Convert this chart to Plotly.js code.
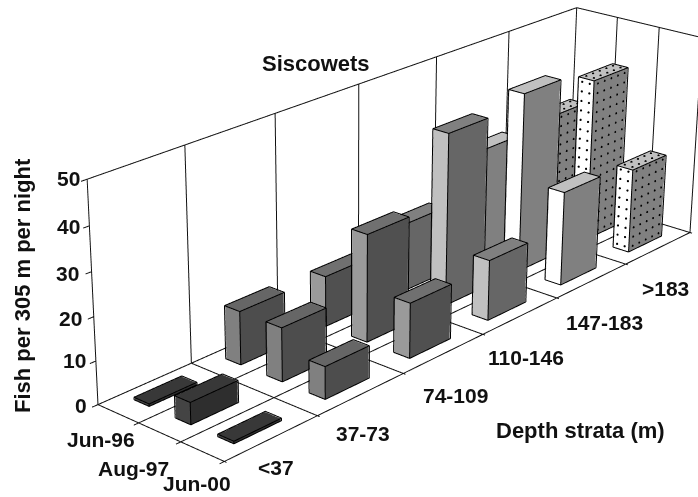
<!DOCTYPE html><html><head><script src="https://cdn.plot.ly/plotly-3.0.1.min.js"></script></head><body style="margin:0;background:#fff;overflow:hidden"><div id="w" style="position:absolute;left:0;top:0;width:698px;height:497px;overflow:hidden"><div id="c" style="position:absolute"></div></div><script>
const depthLabels=['<37','37-73','74-109','110-146','147-183','>183'];
const dateLabels=['Jun-96','Aug-97','Jun-00'];
const jun96=[0.5,12.5,12,16.5,27,28.5];
const aug97=[5,12.5,25.5,41.5,44,40.5];
const jun00=[0.5,7.5,13,14.5,23,21];
const zTicks=[0,10,20,30,40,50];
const sideColors=['#444444','#808080','#9a9a9a','#c0c0c0','#ffffff','#ffffff'];
const faceColors=['#2e2e2e','#4d4d4d','#505050','#666666','#808080','#808080'];
const topColors=['#383838','#666666','#707070','#808080','#c0c0c0','#c0c0c0'];
const W=698,H=497,BH=1862,BW=2615;
const offX=(BW-W)/2,offY=(BH-H)/2;
const cd=document.getElementById('c');cd.style.width=BW+'px';cd.style.height=BH+'px';cd.style.left=-offX+'px';cd.style.top=-offY+'px';
const rows=[jun96,aug97,jun00];
const lx=[],ly=[],lz=[],ex=[],ey=[],ez=[],dx=[],dy=[],dz=[];
const yOf=j=>3-j;
function seg(a,b,X=lx,Y=ly,Z=lz){X.push(a[0],b[0],null);Y.push(a[1],b[1],null);Z.push(a[2],b[2],null)}
for(let i=0;i<=6;i++){seg([i,0,0],[i,3,0]);seg([i,3,0],[i,3,50]);seg([i,0,0],[i,-0.05,0])}
for(let j=0;j<=3;j++){seg([0,j,0],[6,j,0]);seg([6,j,0],[6,j,50]);seg([0,j,0],[-0.05,j,0])}
seg([0,3,50],[6,3,50]);seg([6,0,50],[6,3,50]);
zTicks.forEach(z=>seg([0,3,z],[-0.06,3,z]));
const mx=[],my=[],mz=[],mi=[],mj=[],mk=[],fc=[];
const hx=.25,hy=.18,e=.006;
rows.forEach((vals,j)=>vals.forEach((v,i)=>{
 const x0=i+.5-hx,x1=i+.5+hx,y0=yOf(j)-.5-hy,y1=yOf(j)-.5+hy;
 const b=mx.length;
 [[x0,y0,0],[x1,y0,0],[x1,y1,0],[x0,y1,0],[x0,y0,v],[x1,y0,v],[x1,y1,v],[x0,y1,v]].forEach(q=>{mx.push(q[0]);my.push(q[1]);mz.push(q[2])});
 const add=(q,c)=>{mi.push(b+q[0],b+q[0]);mj.push(b+q[1],b+q[2]);mk.push(b+q[2],b+q[3]);fc.push(c,c)};
 add([0,1,5,4],faceColors[i]);add([3,2,6,7],faceColors[i]);add([0,3,7,4],sideColors[i]);add([1,2,6,5],sideColors[i]);add([4,5,6,7],topColors[i]);
 const X0=x0-e,X1=x1+e,Y0=y0-e,Y1=y1+e,Z=v+.08;
 seg([X0,Y0,0],[X1,Y0,0],ex,ey,ez);seg([X0,Y0,0],[X0,Y1,0],ex,ey,ez);seg([X1,Y0,0],[X1,Y0,Z],ex,ey,ez);seg([X0,Y0,0],[X0,Y0,Z],ex,ey,ez);seg([X0,Y1,0],[X0,Y1,Z],ex,ey,ez);
 seg([X0,Y0,Z],[X1,Y0,Z],ex,ey,ez);seg([X1,Y0,Z],[X1,Y1,Z],ex,ey,ez);seg([X1,Y1,Z],[X0,Y1,Z],ex,ey,ez);seg([X0,Y1,Z],[X0,Y0,Z],ex,ey,ez);
 if(i===5){
  for(let z=1.2;z<v;z+=2.4){for(let a=0;a<5;a++){dx.push(x0+.05+a*.1);dy.push(Y0-.002);dz.push(z)}
   for(let a=0;a<2;a++){dx.push(X0-.002);dy.push(y0+.09+a*.18);dz.push(z)}}
  for(let a=0;a<5;a++)for(let c=0;c<2;c++){dx.push(x0+.05+a*.1);dy.push(y0+.09+c*.18);dz.push(v+.15)}
 }
}));
const pxx=x=>(x+offX)/BW,pxy=y=>1-(y+offY)/BH;
const labelFont={family:'Liberation Sans',size:21,color:'#111',weight:'bold'},boldFont={family:'Liberation Sans',size:22,color:'#111',weight:'bold'};
function ann(text,x,y,f,rot){return {text,x:pxx(x),y:pxy(y),xref:'paper',yref:'paper',xanchor:'center',yanchor:'middle',showarrow:false,font:f,textangle:rot||0}}
const zLabelX=[80,74,70,67,68,68],zLabelY=[405,360,318,273,226,178];
const dlX=[275,362,455,525,604,665],dlY=[467,433,395,357,322,288];
const rlX=[100,133,196],rlY=[439,468,483];
const annotations=[ann('Siscowets',315,63,boldFont),ann('Fish per 305 m per night',22,285,boldFont,-90),ann('Depth strata (m)',580,430,boldFont)];
zTicks.forEach((z,k)=>annotations.push(ann(String(z),zLabelX[k],zLabelY[k],labelFont)));
depthLabels.forEach((t,k)=>annotations.push(ann(t.replace('<','&lt;').replace('>','&gt;'),dlX[k],dlY[k],labelFont)));
dateLabels.forEach((t,k)=>annotations.push(ann(t,rlX[k],rlY[k],labelFont)));
const traces=[
{type:'mesh3d',x:mx,y:my,z:mz,i:mi,j:mj,k:mk,facecolor:fc,flatshading:true,lighting:{ambient:1,diffuse:0,specular:0,fresnel:0,roughness:1},hoverinfo:'skip',showscale:false},
{type:'scatter3d',mode:'lines',x:lx,y:ly,z:lz,line:{color:'#111',width:2},hoverinfo:'skip'},
{type:'scatter3d',mode:'lines',x:ex,y:ey,z:ez,line:{color:'#000',width:2},hoverinfo:'skip'},
{type:'scatter3d',mode:'markers',x:dx,y:dy,z:dz,marker:{color:'#000',size:1.3},hoverinfo:'skip'}];
Plotly.newPlot('c',traces,{width:BW,height:BH,margin:{l:0,r:0,t:0,b:0},showlegend:false,paper_bgcolor:'#fff',annotations,
scene:{domain:{x:[0,1],y:[0,1]},xaxis:{range:[-0.3,6.3],visible:false},yaxis:{range:[-0.15,3.15],visible:false},zaxis:{range:[-2.5,52.5],visible:false},aspectmode:'manual',aspectratio:{x:2.2,y:0.50666,z:0.68189},camera:{eye:{x:-4.3991,y:-3.7325,z:2.2836},center:{x:-0.3457,y:-0.0491,z:0},up:{x:0,y:0,z:1}}}},{displayModeBar:false});
</script></body></html>
